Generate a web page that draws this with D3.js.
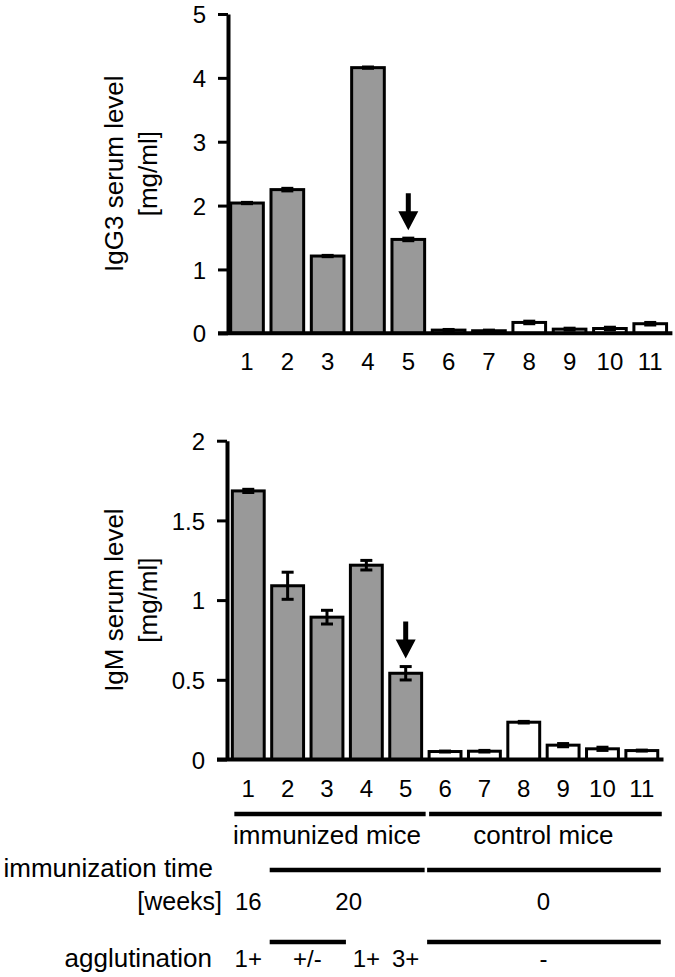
<!DOCTYPE html>
<html>
<head>
<meta charset="utf-8">
<script src="https://cdn.jsdelivr.net/npm/d3@7"></script>
<style>
  html, body { margin: 0; padding: 0; background: #fff; }
  svg { display: block; }
  text { font-family: "Liberation Sans", Arial, Helvetica, sans-serif; fill: #000; }
</style>
</head>
<body>
<svg id="chart" width="675" height="977"></svg>
<script>
// ---- data ----
const categories = ["1","2","3","4","5","6","7","8","9","10","11"];
const immunized = ["1","2","3","4","5"];
const igg3Values = [2.04, 2.25, 1.21, 4.16, 1.47, 0.05, 0.04, 0.17, 0.065, 0.075, 0.15];
const igg3Errors = [0.01, 0.02, 0.01, 0.01, 0.02, 0.01, 0.01, 0.02, 0.015, 0.02, 0.02];
const igmValues  = [1.685, 1.09, 0.893, 1.219, 0.541, 0.05, 0.052, 0.234, 0.09, 0.067, 0.056];
const igmErrors  = [0.01, 0.085, 0.043, 0.03, 0.042, 0.003, 0.005, 0.005, 0.01, 0.01, 0.003];
const igg3Ticks = [0, 1, 2, 3, 4, 5];
const igmTicks  = [0, 0.5, 1, 1.5, 2];
const arrowAt = "5";
const groupLabels = [
  {text: "immunized mice", from: "1", to: "5"},
  {text: "control mice", from: "6", to: "11"}
];
const timeRow = [
  {text: "16", from: "1", to: "1", line: false},
  {text: "20", from: "2", to: "5", line: true},
  {text: "0",  from: "6", to: "11", line: true}
];
const agglRow = [
  {text: "1+",  from: "1", to: "1", line: false},
  {text: "+/-", from: "2", to: "3", line: true},
  {text: "1+",  from: "4", to: "4", line: false},
  {text: "3+",  from: "5", to: "5", line: false},
  {text: "-",   from: "6", to: "11", line: true}
];

const svg = d3.select("#chart");
const FONT = '"Liberation Sans", Arial, sans-serif';

function panel(cfg) {
  const x = d3.scaleBand().domain(categories).range(cfg.xRange)
    .paddingInner(0.19).paddingOuter(0.095);
  const y = d3.scaleLinear().domain([0, cfg.yMax]).range(cfg.yRange);
  const axisX = cfg.axisX;
  const g = svg.append("g");

  // bars
  const data = categories.map((c, i) => ({c, v: cfg.values[i], e: cfg.errors[i]}));
  g.selectAll("rect.bar").data(data).enter().append("rect")
    .attr("class", "bar")
    .attr("x", d => x(d.c))
    .attr("width", x.bandwidth())
    .attr("y", d => y(d.v))
    .attr("height", d => y(0) - y(d.v))
    .attr("fill", d => immunized.includes(d.c) ? "#999999" : "#ffffff")
    .attr("stroke", "#000").attr("stroke-width", 3);

  // error bars
  const eg = g.selectAll("g.err").data(data).enter().append("g").attr("class", "err")
    .attr("stroke", "#000").attr("stroke-width", 3);
  const cx = d => x(d.c) + x.bandwidth() / 2;
  eg.append("line")
    .attr("x1", cx).attr("x2", cx)
    .attr("y1", d => y(d.v - d.e)).attr("y2", d => y(d.v + d.e));
  eg.append("line")
    .attr("x1", d => cx(d) - 6).attr("x2", d => cx(d) + 6)
    .attr("y1", d => y(d.v + d.e)).attr("y2", d => y(d.v + d.e));
  eg.append("line")
    .attr("x1", d => cx(d) - 6).attr("x2", d => cx(d) + 6)
    .attr("y1", d => y(d.v - d.e)).attr("y2", d => y(d.v - d.e));

  // y axis
  const ya = g.append("g").attr("transform", `translate(${axisX},0)`)
    .call(d3.axisLeft(y).tickValues(cfg.ticks).tickSize(10).tickSizeOuter(0).tickPadding(12)
      .tickFormat(d3.format("~g")));
  ya.select(".domain").attr("stroke", "#000").attr("stroke-width", 4);
  ya.selectAll(".tick line").attr("stroke", "#000").attr("stroke-width", 3);
  ya.selectAll(".tick text").style("font-size", "24px").style("font-family", FONT)
    .attr("dy", "0.36em");

  // x axis (baseline + labels)
  const xa = g.append("g").attr("transform", `translate(0,${y(0)})`)
    .call(d3.axisBottom(x).tickSize(0).tickPadding(20));
  xa.select(".domain").remove();
  xa.selectAll(".tick text").style("font-size", "24px").style("font-family", FONT);
  g.append("line").attr("x1", axisX - 10).attr("x2", cfg.xRange[1] + 2)
    .attr("y1", y(0)).attr("y2", y(0)).attr("stroke", "#000").attr("stroke-width", 4);

  // arrow over bar 5
  const ai = categories.indexOf(arrowAt);
  const ax = x(arrowAt) + x.bandwidth() / 2;
  const tip = y(cfg.values[ai] + cfg.errors[ai]) - 8;
  g.append("path")
    .attr("d", `M${ax - 2.5},${tip - 37} L${ax + 2.5},${tip - 37} L${ax + 2.5},${tip - 19} L${ax + 10},${tip - 19} L${ax},${tip} L${ax - 10},${tip - 19} L${ax - 2.5},${tip - 19} Z`)
    .attr("fill", "#000");

  // y title
  const cy = (cfg.yRange[0] + cfg.yRange[1]) / 2;
  const t = g.append("text").attr("transform", `translate(0,${cy}) rotate(-90)`)
    .attr("text-anchor", "middle").style("font-size", "26px");
  t.append("tspan").attr("x", 0).attr("y", 123).text(cfg.title1);
  t.append("tspan").attr("x", 0).attr("y", 157).text(cfg.title2);
  return x;
}

panel({
  values: igg3Values, errors: igg3Errors, ticks: igg3Ticks, yMax: 5,
  yRange: [333.3, 14], xRange: [226.85, 670.4], axisX: 228,
  title1: "IgG3 serum level", title2: "[mg/ml]"
});
const xb = panel({
  values: igmValues, errors: igmErrors, ticks: igmTicks, yMax: 2,
  yRange: [759.5, 440.7], xRange: [228.6, 661.5], axisX: 227,
  title1: "IgM serum level", title2: "[mg/ml]"
});

// ---- annotation rows ----
const left = c => xb(c);
const right = c => xb(c) + xb.bandwidth();
const mid = (a, b) => (left(a) + right(b)) / 2;
const ann = svg.append("g");
function seg(x1, x2, yy) {
  ann.append("line").attr("x1", x1).attr("x2", x2).attr("y1", yy).attr("y2", yy)
    .attr("stroke", "#000").attr("stroke-width", 4.5);
}
function label(txt, xx, yy, anchor, size) {
  ann.append("text").attr("x", xx).attr("y", yy).attr("text-anchor", anchor)
    .style("font-size", size + "px").text(txt);
}
// group row
groupLabels.forEach((gl, i) => {
  seg(left(gl.from) + (i === 0 ? 2 : 0), right(gl.to) + 4, 814);
  label(gl.text, mid(gl.from, gl.to), 844, "middle", 26);
});
// immunization time row
label("immunization time", 213, 877, "end", 26);
label("[weeks]", 222, 910, "end", 25);
timeRow.forEach(r => {
  if (r.line) seg(left(r.from) - 2, right(r.to) + 3, 870);
  label(r.text, mid(r.from, r.to) + (r.from === "2" ? 2 : 0), 910, "middle", 24);
});
// agglutination row
label("agglutination", 212, 967, "end", 26);
agglRow.forEach(r => {
  if (r.line) seg(left(r.from) - 2, right(r.to) + 3, 942);
  label(r.text, mid(r.from, r.to), 967, "middle", 24);
});
</script>
</body>
</html>
